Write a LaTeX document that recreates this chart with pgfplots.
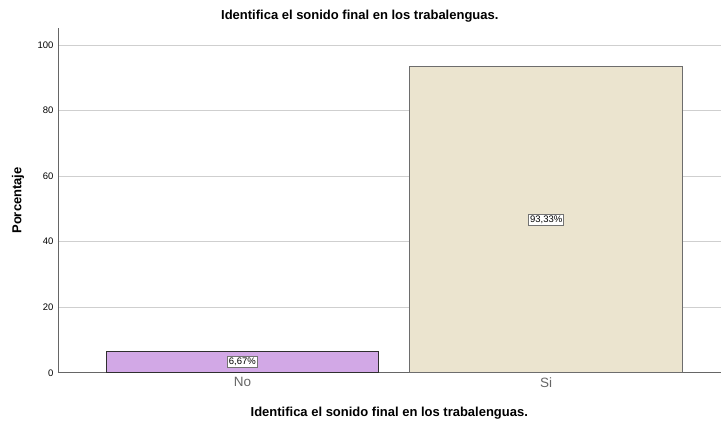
\documentclass[border=0pt]{standalone}
\usepackage{fontspec}
\setmainfont{Liberation Sans}
\usepackage{pgfplots}
\pgfplotsset{compat=1.18}
\definecolor{nocolor}{HTML}{D2A8E6}
\definecolor{sicolor}{HTML}{EBE4CF}
\definecolor{gridcolor}{HTML}{CFCFCF}
\definecolor{edgecolor}{HTML}{2F2F2F}
\begin{document}
\begin{tikzpicture}
\begin{axis}[
    at={(0pt,0pt)}, anchor=south west,
    scale only axis,
    width=663pt, height=345pt,
    xmin=-0.607, xmax=1.574,
    ymin=0, ymax=105.2,
    axis x line*=bottom,
    axis y line*=left,
    axis line style={draw=gray!80!black, line width=0.8pt},
    xtick={0,1},
    xticklabels={No, Si},
    ytick={0,20,40,60,80,100},
    major tick length=0pt,
    ymajorgrids,
    grid style={gridcolor, line width=0.8pt},
    /pgf/number format/assume math mode=true,
    yticklabel style={font=\fontsize{9.5}{10}\selectfont, xshift=-1pt},
    xticklabel style={font=\fontsize{13.5}{14}\selectfont, text=gray!80!black, yshift=-1pt},
    ylabel={\textbf{Porcentaje}},
    ylabel style={font=\fontsize{13}{14}\selectfont, at={(axis description cs:-0.0603,0.5)}, anchor=center},
    xlabel={\textbf{Identifica el sonido final en los trabalenguas.}},
    xlabel style={font=\fontsize{13}{14}\selectfont, at={(axis description cs:0.5,0)}, yshift=-40pt, anchor=center},
    title={\textbf{Identifica el sonido final en los trabalenguas.}},
    every axis title/.style={font=\fontsize{13}{14}\selectfont, at={(axis description cs:0.4555,1)}, yshift=12pt, anchor=center},
    clip=false,
]
\addplot[ybar, bar width=0.898, fill=nocolor, draw=edgecolor, line width=0.8pt] coordinates {(0,6.67)};
\addplot[ybar, bar width=0.898, fill=sicolor, draw=edgecolor!70, line width=0.8pt] coordinates {(1,93.33)};
\addplot[draw=none, mark=none, nodes near coords, point meta=explicit symbolic,
    every node near coord/.style={anchor=center, draw=gray!90!black, fill=white, line width=0.8pt,
      inner sep=1.5pt, font=\fontsize{9.5}{10}\selectfont}]
    coordinates {(0,3.335) [6,67\%] (1,46.665) [93,33\%]};
\end{axis}
\useasboundingbox (-58pt,-52pt) rectangle (663pt,373pt);
\end{tikzpicture}
\end{document}
